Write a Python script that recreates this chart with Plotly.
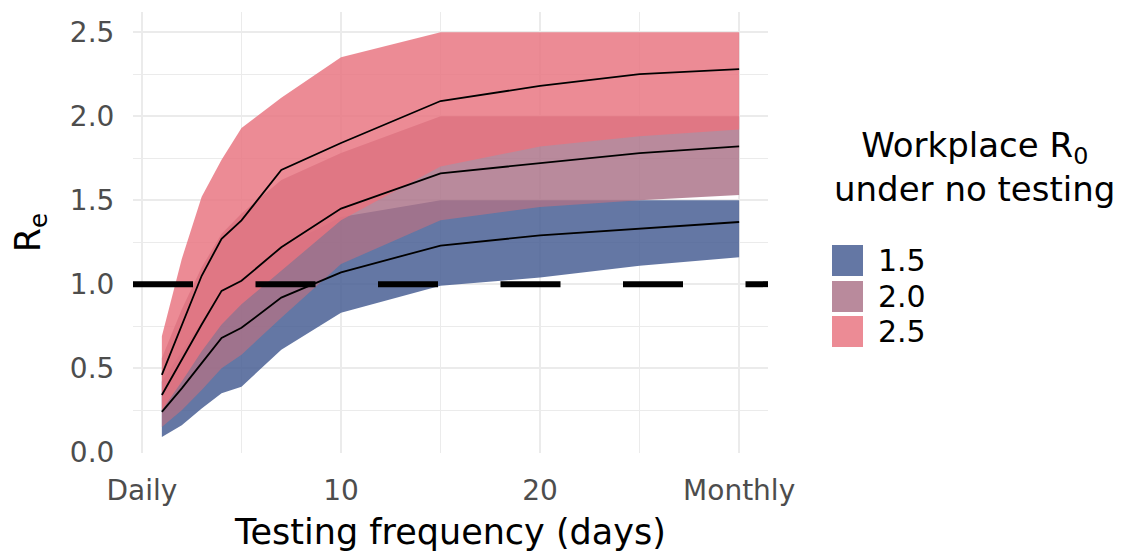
import plotly.graph_objects as go

# ---------------- data ----------------
days = [1, 2, 3, 4, 5, 7, 10, 15, 20, 25, 30]
groups = ["1.5", "2.0", "2.5"]

lower_15 = [0.09, 0.16, 0.26, 0.35, 0.39, 0.61, 0.83, 0.99, 1.04, 1.11, 1.16]
median_15 = [0.24, 0.38, 0.53, 0.68, 0.74, 0.92, 1.07, 1.23, 1.29, 1.33, 1.37]
upper_15 = [0.42, 0.60, 0.78, 0.95, 1.03, 1.22, 1.40, 1.50, 1.50, 1.50, 1.50]

lower_20 = [0.15, 0.25, 0.37, 0.50, 0.58, 0.80, 1.12, 1.38, 1.46, 1.50, 1.53]
median_20 = [0.34, 0.55, 0.76, 0.96, 1.02, 1.22, 1.45, 1.66, 1.72, 1.78, 1.82]
upper_20 = [0.56, 0.85, 1.10, 1.30, 1.42, 1.62, 1.78, 2.00, 2.00, 2.00, 2.00]

lower_25 = [0.25, 0.42, 0.60, 0.76, 0.88, 1.08, 1.38, 1.70, 1.82, 1.88, 1.92]
median_25 = [0.46, 0.75, 1.05, 1.27, 1.38, 1.68, 1.84, 2.09, 2.18, 2.25, 2.28]
upper_25 = [0.69, 1.15, 1.52, 1.74, 1.93, 2.11, 2.35, 2.50, 2.50, 2.50, 2.50]

threshold = 1.0

x_tickvals = [0, 10, 20, 30]
x_ticktext = ["Daily", "10", "20", "Monthly"]
y_tickvals = [0.0, 0.5, 1.0, 1.5, 2.0, 2.5]
y_ticktext = ["0.0", "0.5", "1.0", "1.5", "2.0", "2.5"]

# ---------------- styles ----------------
ALPHA = 0.83
fills = {"1.5": (68, 92, 145), "2.0": (171, 114, 136), "2.5": (232, 116, 128)}
FONT = "DejaVu Sans"

# page body has an 8px default margin: lay the figure out 8px smaller/shifted
OFF = 8
W, H = 1123 - OFF, 553 - OFF
PL, PR, PT, PB = 133 - OFF, 768 - OFF, 12 - OFF, 453 - OFF  # plot area in figure pixels

series = {
    "1.5": (lower_15, median_15, upper_15),
    "2.0": (lower_20, median_20, upper_20),
    "2.5": (lower_25, median_25, upper_25),
}

def rgba(c, a):
    return "rgba(%d,%d,%d,%.3f)" % (c[0], c[1], c[2], a)

fig = go.Figure()

for g in groups:
    lo, _, up = series[g]
    fig.add_trace(go.Scatter(
        x=days + days[::-1], y=up + lo[::-1],
        fill="toself", fillcolor=rgba(fills[g], ALPHA),
        line=dict(width=0), mode="lines", hoverinfo="skip",
        showlegend=False, name=g))

for g in groups:
    _, med, _ = series[g]
    fig.add_trace(go.Scatter(
        x=days, y=med, mode="lines",
        line=dict(color="black", width=1.8),
        showlegend=False, name=g))

# dashed reference line across the panel
fig.add_shape(type="line", xref="paper", x0=0, x1=1, yref="y",
              y0=threshold, y1=threshold,
              line=dict(color="black", width=6, dash="60px,62.5px"),
              layer="above")

# ---------------- manual legend (screen pixel coords) ----------------
def px_x(p):
    return (p - OFF - PL) / (PR - PL)

def px_y(p):
    return (PB - (p - OFF)) / (PB - PT)

key_tops = [245, 281, 316]
key_h = 31
for g, top in zip(groups, key_tops):
    fig.add_shape(type="rect", xref="paper", yref="paper",
                  x0=px_x(832), x1=px_x(863), y0=px_y(top + key_h), y1=px_y(top),
                  fillcolor=rgba(fills[g], ALPHA), line=dict(width=0))
    fig.add_annotation(xref="paper", yref="paper", x=px_x(876), y=px_y(top + key_h / 2),
                       text=g, showarrow=False, xanchor="left", yanchor="middle",
                       font=dict(family=FONT, size=30, color="black"))

fig.add_annotation(xref="paper", yref="paper", x=px_x(974), y=px_y(167),
                   text="Workplace R<sub>0</sub><br>under no testing",
                   showarrow=False, xanchor="center", yanchor="middle", align="center",
                   font=dict(family=FONT, size=34, color="black"))

fig.update_layout(
    width=W, height=H,
    margin=dict(l=PL, r=W - PR, t=PT, b=H - PB, pad=0),
    paper_bgcolor="white", plot_bgcolor="white",
    font=dict(family=FONT, color="black"),
    showlegend=False,
    xaxis=dict(
        range=[-0.45, 31.45], tickmode="array", tickvals=x_tickvals, ticktext=x_ticktext,
        showgrid=True, gridcolor="#ebebeb", gridwidth=1.6, zeroline=False, showline=False,
        ticks="outside", ticklen=12, tickcolor="rgba(0,0,0,0)", automargin=False,
        tickfont=dict(family=FONT, size=28, color="#4d4d4d"),
        minor=dict(tickvals=[5, 15, 25], showgrid=True, gridcolor="#ebebeb", gridwidth=0.9),
        title=dict(text="Testing frequency (days)", standoff=13,
                   font=dict(family=FONT, size=35, color="black")),
    ),
    yaxis=dict(
        range=[-0.005, 2.62], tickmode="array", tickvals=y_tickvals, ticktext=y_ticktext,
        showgrid=True, gridcolor="#ebebeb", gridwidth=1.6, zeroline=False, showline=False,
        ticks="outside", ticklen=12, tickcolor="rgba(0,0,0,0)", automargin=False,
        tickfont=dict(family=FONT, size=28, color="#4d4d4d"),
        minor=dict(tickvals=[0.25, 0.75, 1.25, 1.75, 2.25], showgrid=True,
                   gridcolor="#ebebeb", gridwidth=0.9),
        title=dict(text="R<sub>e</sub>", standoff=18,
                   font=dict(family=FONT, size=35, color="black")),
    ),
)

fig.write_html("out.html")
